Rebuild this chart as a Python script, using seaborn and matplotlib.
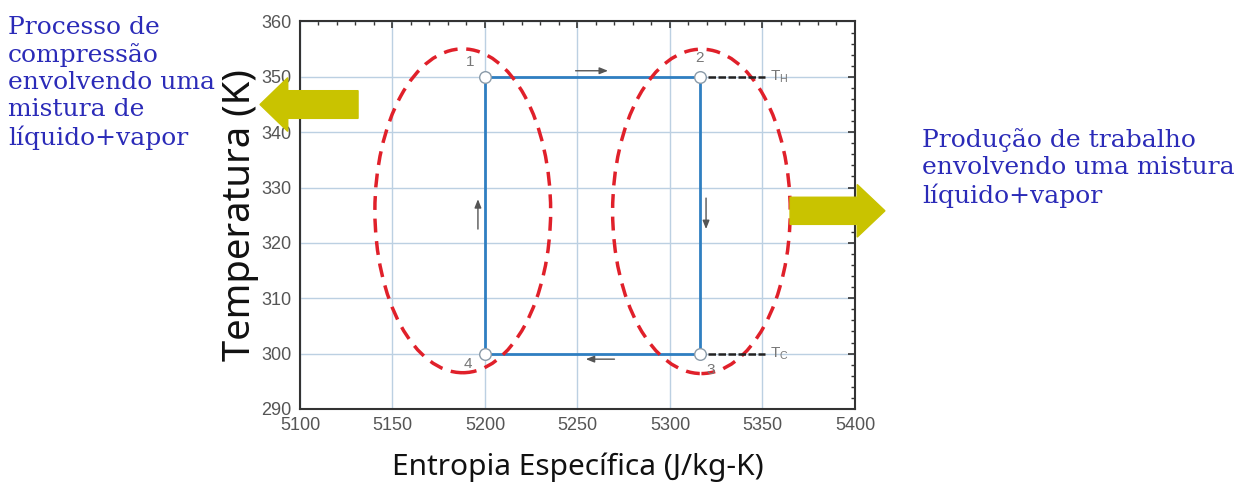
import numpy as np
import pandas as pd
import seaborn as sns
import matplotlib
matplotlib.use("Agg")
import matplotlib.pyplot as plt
import matplotlib.patches as mpatches

# cycle corners (state 1 -> 2 -> 3 -> 4 -> 1)
entropy = [5200, 5316, 5316, 5200, 5200]
temperature = [350, 350, 300, 300, 350]
state_names = ["1", "2", "3", "4"]
T_hot = 350
T_cold = 300

# dashed regions: (center s, center T, width, height)
regions = [(5188, 325.8, 95, 58.5), (5317, 325.7, 96, 58.6)]

left_note = "Processo de\ncompressão\nenvolvendo uma\nmistura de\nlíquido+vapor"
right_note = "Produção de trabalho\nenvolvendo uma mistura\nlíquido+vapor"

sns.set_style("white")
plt.rcParams["font.family"] = ["Liberation Sans", "DejaVu Sans"]

fig = plt.figure(figsize=(12.54, 4.84), dpi=100)
ax = fig.add_axes([0.2392, 0.155, 0.4426, 0.8006])

df = pd.DataFrame({"s": entropy, "T": temperature})
sns.lineplot(data=df, x="s", y="T", sort=False, estimator=None,
             color="#2f7fc1", lw=2, ax=ax, zorder=3)
sns.scatterplot(data=df.iloc[:4], x="s", y="T", s=70, color="white",
                edgecolor="#8a9aa8", linewidth=1, ax=ax, zorder=5)

for cx, cy, w, h in regions:
    ax.add_patch(mpatches.Ellipse((cx, cy), w, h, fill=False, ec="#e0202a",
                                  lw=2.5, ls=(0, (4, 2.5)), zorder=4))

# isotherm markers
ax.plot([5320.5, 5351.5], [T_hot, T_hot], color="#222222", lw=1.8, ls=(0, (3, 1)), zorder=4)
ax.plot([5320.5, 5351.5], [T_cold, T_cold], color="#222222", lw=1.8, ls=(0, (3, 1)), zorder=4)
ax.text(5354, T_hot, "T$_\\mathregular{H}$", color="#777777", fontsize=11, va="center")
ax.text(5354, T_cold, "T$_\\mathregular{C}$", color="#777777", fontsize=11, va="center")

# state numbers
label_pos = [(5192, 352.7), (5316, 353.4), (5322, 297.0), (5191, 298.2)]
for name, (lx, ly) in zip(state_names, label_pos):
    ax.text(lx, ly, name, color="#777777", fontsize=11, ha="center", va="center", zorder=6)

# direction arrows
arrow_kw = dict(arrowstyle="-|>,head_length=0.5,head_width=0.2", color="#555555", lw=1)
ax.annotate("", xy=(5268, 351.1), xytext=(5247.5, 351.1), arrowprops=arrow_kw)
ax.annotate("", xy=(5253, 299.0), xytext=(5271.5, 299.0), arrowprops=arrow_kw)
ax.annotate("", xy=(5196.2, 328.4), xytext=(5196.2, 322.0), arrowprops=arrow_kw)
ax.annotate("", xy=(5319.5, 322.0), xytext=(5319.5, 328.6), arrowprops=arrow_kw)

# big yellow arrows
ax.add_patch(mpatches.FancyArrow(5131.4, 345.0, -38, 0, width=5.0, head_width=9.7,
                                 head_length=15, length_includes_head=False,
                                 color="#c9c300", clip_on=False, zorder=6))
ax.add_patch(mpatches.FancyArrow(5364.9, 325.8, 36.3, 0, width=4.9, head_width=9.5,
                                 head_length=15, length_includes_head=False,
                                 color="#c9c300", clip_on=False, zorder=6))

ax.set_xlim(5100, 5400)
ax.set_ylim(290, 360)
ax.set_xticks(np.arange(5100, 5401, 50))
ax.set_yticks(np.arange(290, 361, 10))
ax.set_xticks(np.arange(5100, 5401, 10), minor=True)
ax.set_yticks(np.arange(290, 361, 2), minor=True)
ax.grid(True, which="major", color="#bcd0e2", lw=1)
ax.tick_params(which="both", direction="in", top=True, right=True, color="#333333")
ax.tick_params(which="major", length=5, labelsize=13, labelcolor="#555555", width=1.2, pad=6)
ax.tick_params(which="minor", length=3, width=1)
for sp in ax.spines.values():
    sp.set_color("#333333")
    sp.set_linewidth(1.5)

ax.set_xlabel("Entropia Específica (J/kg-K)", fontsize=21.5, family="Noto Sans",
              color="#111111", labelpad=13)
ax.set_ylabel("Temperatura (K)", fontsize=27.5, family="Noto Sans",
              color="#111111", labelpad=2)

fig.text(8 / 1254, 1 - 16 / 484, left_note, family="DejaVu Serif", fontsize=18,
         color="#2b2bb8", va="top", ha="left", linespacing=1.22)
fig.text(922 / 1254, 1 - 128 / 484, right_note, family="DejaVu Serif", fontsize=18,
         color="#2b2bb8", va="top", ha="left", linespacing=1.22)

fig.savefig("out.png", dpi=100)
